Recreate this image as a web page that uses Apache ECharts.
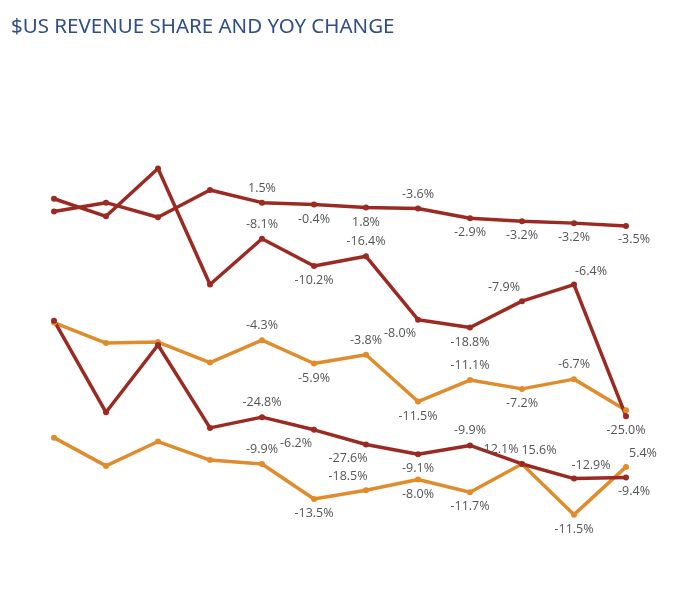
<!DOCTYPE html>
<html>
<head>
<meta charset="utf-8">
<script src="https://cdn.jsdelivr.net/npm/echarts@6/dist/echarts.min.js"></script>
<style>
  html, body { margin: 0; padding: 0; background: #fff; }
  #main { width: 680px; height: 611px; }
</style>
</head>
<body>
<div id="main"></div>
<script>
// months on the x axis (axis itself is hidden in the original)
var months = ['Jan', 'Feb', 'Mar', 'Apr', 'May', 'Jun', 'Jul', 'Aug', 'Sep', 'Oct', 'Nov', 'Dec'];

// revenue share per line
var shareA = [33.7, 34.6, 33.1, 35.9, 34.6, 34.4, 34.1, 34.0, 33.0, 32.7, 32.5, 32.2];
var shareB = [35.0, 33.2, 38.1, 26.2, 30.9, 28.1, 29.1, 22.6, 21.8, 24.5, 26.2, 12.7];
var shareC = [22.3, 20.2, 20.3, 18.2, 20.5, 18.1, 19.0, 14.2, 16.4, 15.5, 16.5, 13.3];
var shareD = [22.5, 13.1, 20.0, 11.5, 12.6, 11.3, 9.8, 8.8, 9.7, 7.8, 6.3, 6.4];
var shareE = [10.5, 7.6, 10.1, 8.2, 7.8, 4.2, 5.1, 6.2, 4.9, 7.8, 2.6, 7.5];

// yoy change labels (null = no label shown)
var yoyA = [null, null, null, null, 1.5, -0.4, 1.8, -3.6, -2.9, -3.2, -3.2, -3.5];
var yoyB = [null, null, null, null, -8.1, -10.2, -16.4, -8.0, -18.8, -7.9, -6.4, -25.0];
var yoyC = [null, null, null, null, -4.3, -5.9, -3.8, -11.5, -11.1, -7.2, -6.7, null];
var yoyD = [null, null, null, null, -24.8, -6.2, -27.6, -9.1, -9.9, -12.1, -12.9, -9.4];
var yoyE = [null, null, null, null, -9.9, -13.5, -18.5, -8.0, -11.7, 15.6, -11.5, 5.4];

// where each label sits around its point
var placeA = ['', '', '', '', 't', 'b', 'b', 't', 'b', 'b', 'b', 'br'];
var placeB = ['', '', '', '', 't', 'b', 't', 'bl', 'b', 'tl', 'tr', 'b'];
var placeC = ['', '', '', '', 't', 'b', 't', 'b', 't', 'b', 't', ''];
var placeD = ['', '', '', '', 't', 'bl', 'bl', 'b', 't', 'tll', 'tr', 'br'];
var placeE = ['', '', '', '', 't', 'b', 'tl', 'b', 'b', 'tr', 'b', 'tr'];

var RED = '#9b2a22';
var ORANGE = '#e08c2c';

var offsets = {
    t: [0, 0], b: [0, 0],
    tl: [-18, 1], tll: [-23, 0], tr: [17, 1],
    bl: [-18, -1], br: [8, -1]
};

function buildData(values, yoy, place) {
    return values.map(function (v, i) {
        var item = { value: v };
        if (yoy[i] === null) {
            item.label = { show: false };
        } else {
            var p = place[i];
            item.label = {
                show: true,
                position: p.charAt(0) === 't' ? 'top' : 'bottom',
                offset: offsets[p],
                formatter: yoy[i].toFixed(1) + '%'
            };
        }
        return item;
    });
}

function makeSeries(name, color, values, yoy, place) {
    return {
        name: name,
        type: 'line',
        data: buildData(values, yoy, place),
        symbol: 'circle',
        symbolSize: 6,
        lineStyle: { width: 3.5, color: color },
        itemStyle: { color: color },
        label: {
            color: '#555',
            fontSize: 12.5,
            fontFamily: 'Open Sans',
            distance: 5
        },
        emphasis: { disabled: true },
        animation: false
    };
}

var chart = echarts.init(document.getElementById('main'));
var option = {
    backgroundColor: '#fff',
    title: {
        text: '$US REVENUE SHARE AND YOY CHANGE',
        left: 6,
        top: 12,
        textStyle: {
            color: '#2f4d8a',
            fontSize: 20.5,
            fontWeight: 'normal',
            fontFamily: 'Noto Sans'
        }
    },
    grid: { left: 54, right: 54, top: 150, bottom: 71 },
    xAxis: {
        type: 'category',
        data: months,
        boundaryGap: false,
        show: false
    },
    yAxis: {
        type: 'value',
        min: 0,
        max: 40,
        show: false
    },
    series: [
        makeSeries('C', ORANGE, shareC, yoyC, placeC),
        makeSeries('E', ORANGE, shareE, yoyE, placeE),
        makeSeries('A', RED, shareA, yoyA, placeA),
        makeSeries('B', RED, shareB, yoyB, placeB),
        makeSeries('D', RED, shareD, yoyD, placeD)
    ]
};
chart.setOption(option);
</script>
</body>
</html>
